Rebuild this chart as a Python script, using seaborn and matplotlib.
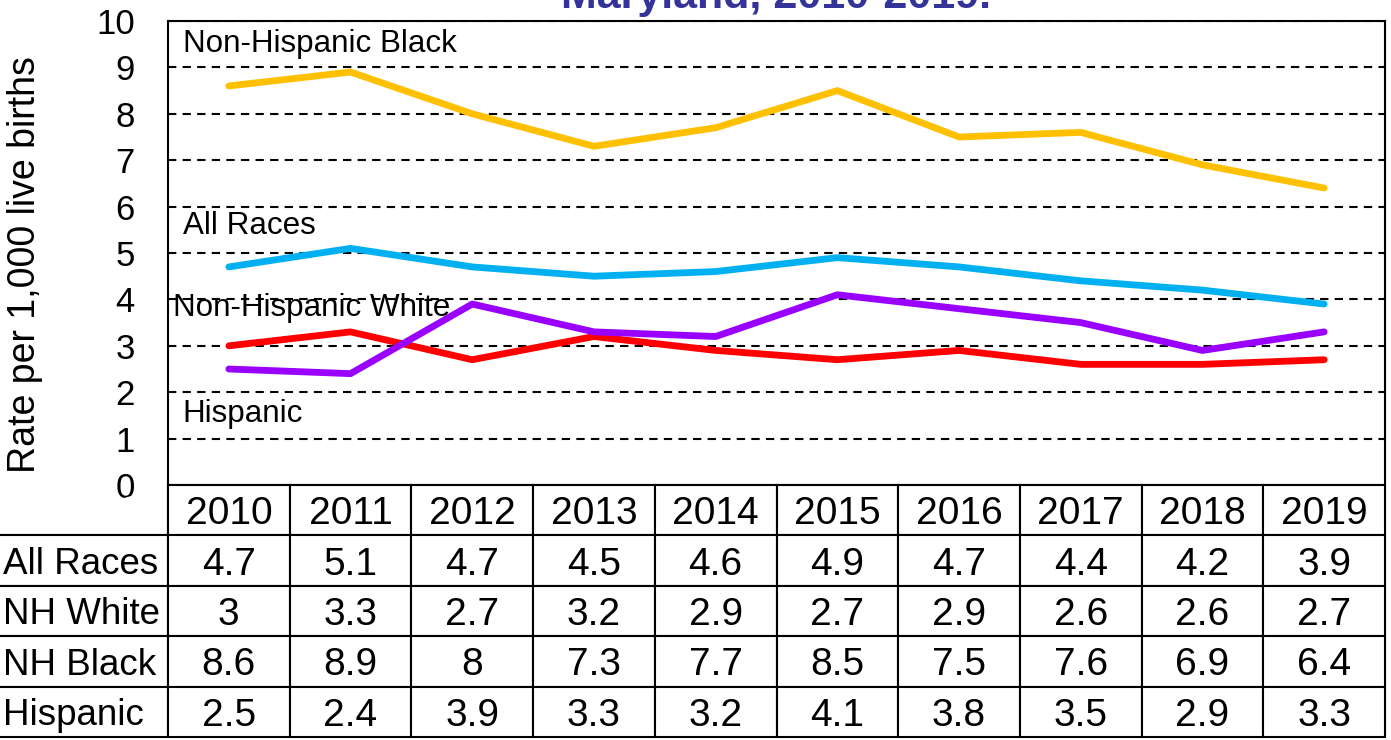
import pandas as pd
import matplotlib.pyplot as plt
import seaborn as sns

# chart data
years = ["2010", "2011", "2012", "2013", "2014", "2015", "2016", "2017", "2018", "2019"]
all_races = [4.7, 5.1, 4.7, 4.5, 4.6, 4.9, 4.7, 4.4, 4.2, 3.9]
nh_white = [3, 3.3, 2.7, 3.2, 2.9, 2.7, 2.9, 2.6, 2.6, 2.7]
nh_black = [8.6, 8.9, 8, 7.3, 7.7, 8.5, 7.5, 7.6, 6.9, 6.4]
hispanic = [2.5, 2.4, 3.9, 3.3, 3.2, 4.1, 3.8, 3.5, 2.9, 3.3]

row_names = ["All Races", "NH White", "NH Black", "Hispanic"]
series = [all_races, nh_white, nh_black, hispanic]
colors = {"All Races": "#00B0F0", "NH White": "#FF0000",
          "NH Black": "#FFC000", "Hispanic": "#9900FF"}

# in-plot labels (text, y value) as placed in the original
labels = [("Non-Hispanic Black", 9.5, 0.12), ("All Races", 5.58, 0.12),
          ("Non-Hispanic White", 3.81, 0.04), ("Hispanic", 1.53, 0.12)]

sns.set_style("white")
plt.rcParams['font.family'] = ['Liberation Sans', 'DejaVu Sans']
plt.rcParams['text.color'] = 'black'
plt.rcParams['ytick.color'] = 'black'

W, H = 1391, 740
fig = plt.figure(figsize=(W / 100, H / 100), dpi=100)

# plot area
ax = fig.add_axes([168 / W, 1 - 485 / H, (1385 - 168) / W, (485 - 21) / H])

df = pd.DataFrame({
    "x": list(range(len(years))) * len(row_names),
    "rate": [v for s in series for v in s],
    "group": [n for n in row_names for _ in years],
})
sns.lineplot(data=df, x="x", y="rate", hue="group", palette=colors,
             linewidth=4.9, legend=False, ax=ax, zorder=3)

ax.set_xlim(-0.5, len(years) - 0.5)
ax.set_ylim(0, 10)
ax.set_yticks(range(0, 11))
ax.set_xticks([])
ax.set_xlabel("")
ax.set_ylabel("")
ax.tick_params(axis='y', length=0, pad=24, labelsize=25, labelcolor='black')
for y in range(1, 11):
    ax.axhline(y, color='black', lw=1.5, ls=(0, (4, 3)), zorder=1)
for sp in ax.spines.values():
    sp.set_visible(True)
    sp.set_color('black')
    sp.set_linewidth(1.5)

for text, yv, xoff in labels:
    ax.text(-0.5 + xoff, yv, text, fontsize=22.6, va='center', ha='left',
            color='black', zorder=4)

fig.text(25 / W, 1 - 265 / H, "Rate per 1,000 live births", rotation=90,
         fontsize=27, ha='center', va='center', color='black')

# clipped title at top (the original is cut off the same way)
fig.text(776 / W, 1 - 8 / H, "Maryland, 2010-2019.", fontsize=31,
         fontweight='bold', color='#333399', ha='center', va='baseline')

# data table below the plot
tax = fig.add_axes([0, 1 - 737 / H, 1385 / W, (737 - 485) / H])
tax.axis('off')
cell_text = [[name] + [f"{v:g}" for v in s] for name, s in zip(row_names, series)]
col_w = [168 / 1385] + [(1217 / 10) / 1385] * len(years)
tbl = tax.table(cellText=cell_text, colLabels=[""] + years, colWidths=col_w,
                cellLoc='center', bbox=[0, 0, 1, 1])
tbl.auto_set_font_size(False)
tbl.set_fontsize(28)
for (r, c), cell in tbl.get_celld().items():
    cell.set_linewidth(1.5)
    cell.set_edgecolor('black')
    cell.get_text().set_color('black')
    cell.get_text().set_va('center_baseline')
    if c == 0:
        if r == 0:
            cell.visible_edges = 'BR'
        else:
            cell.visible_edges = 'TBR'
            cell.PAD = 0.015
            cell.get_text().set_ha('left')
            cell.get_text().set_fontsize(26.5)
            cell._loc = 'left'

fig.savefig("out.png", dpi=100)
